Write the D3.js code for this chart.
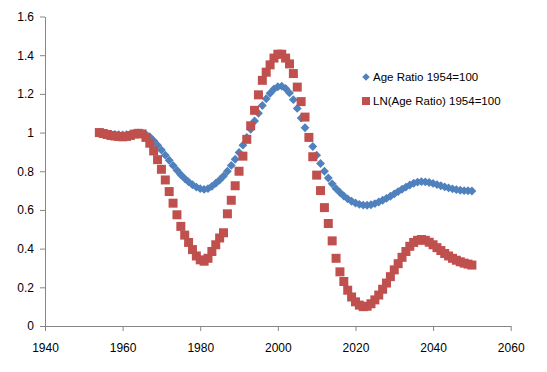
<!DOCTYPE html>
<html>
<head>
<meta charset="utf-8">
<script src="https://cdn.jsdelivr.net/npm/d3@7"></script>
<style>
  body { margin: 0; background: #fff; }
  svg text { font-family: "Liberation Sans", Arial, sans-serif; fill: #000; }
</style>
</head>
<body>
<div id="chart"></div>
<script>
// yearly values 1954..2050
const firstYear = 1954
const ageRatio = [
  1.000, 0.997, 0.994, 0.992, 0.990, 0.989, 0.988, 0.989, 0.991, 0.995,
  0.998, 0.997, 0.990, 0.978, 0.958, 0.935, 0.910, 0.883, 0.857, 0.830,
  0.805, 0.782, 0.762, 0.745, 0.730, 0.718, 0.710, 0.706, 0.710, 0.722,
  0.738, 0.755, 0.775, 0.800, 0.830, 0.862, 0.897, 0.935, 0.975, 1.017,
  1.060, 1.100, 1.140, 1.175, 1.203, 1.225, 1.237, 1.240, 1.228, 1.205,
  1.170, 1.125, 1.075, 1.025, 0.975, 0.928, 0.883, 0.840, 0.800, 0.765,
  0.735, 0.710, 0.690, 0.672, 0.657, 0.645, 0.636, 0.629, 0.625, 0.624,
  0.627, 0.633, 0.641, 0.650, 0.660, 0.671, 0.683, 0.695, 0.707, 0.718,
  0.729, 0.738, 0.744, 0.746, 0.745, 0.742, 0.737, 0.731, 0.725, 0.719,
  0.714, 0.709, 0.705, 0.702, 0.700, 0.699, 0.698
]
const lnRatio = [
  1.000, 0.995, 0.990, 0.985, 0.982, 0.980, 0.978, 0.980, 0.985, 0.992,
  0.996, 0.993, 0.975, 0.945, 0.905, 0.860, 0.810, 0.755, 0.695, 0.635,
  0.575, 0.515, 0.470, 0.432, 0.395, 0.362, 0.342, 0.335, 0.350, 0.385,
  0.420, 0.455, 0.482, 0.580, 0.650, 0.725, 0.800, 0.878, 0.965, 1.035,
  1.115, 1.195, 1.270, 1.312, 1.350, 1.385, 1.405, 1.405, 1.385, 1.355,
  1.305, 1.235, 1.160, 1.080, 0.975, 0.875, 0.780, 0.700, 0.612, 0.530,
  0.440, 0.350, 0.280, 0.230, 0.185, 0.150, 0.125, 0.108, 0.100, 0.102,
  0.115, 0.135, 0.160, 0.190, 0.222, 0.255, 0.290, 0.322, 0.355, 0.385,
  0.412, 0.432, 0.443, 0.447, 0.443, 0.433, 0.420, 0.405, 0.390, 0.375,
  0.362, 0.350, 0.340, 0.332, 0.325, 0.320, 0.315
]
const xTicks = [1940, 1960, 1980, 2000, 2020, 2040, 2060]
const yTicks = [0, 0.2, 0.4, 0.6, 0.8, 1, 1.2, 1.4, 1.6]
const seriesNames = ["Age Ratio 1954=100", "LN(Age Ratio) 1954=100"]

const width = 547
const height = 372
const axisColor = "#868686"
const blue = "#4F81BD"
const red = "#C0504D"

const x = d3.scaleLinear().domain([1940, 2060]).range([45, 510.7])
const y = d3.scaleLinear().domain([0, 1.6]).range([326, 16.5])

const svg = d3.select("#chart").append("svg")
    .attr("width", width)
    .attr("height", height)

//axes
const xAxis = svg.append("g")
    .attr("transform", `translate(0, ${y(0)})`)
    .call(d3.axisBottom(x).tickValues(xTicks).tickFormat(d3.format("d"))
        .tickSize(5).tickSizeOuter(0).tickPadding(12))
const yAxis = svg.append("g")
    .attr("transform", `translate(${x(1940)}, 0)`)
    .call(d3.axisLeft(y).tickValues(yTicks).tickFormat(d => d3.format("")(+d.toFixed(1)))
        .tickSize(5).tickSizeOuter(0).tickPadding(6))

for (const ax of [xAxis, yAxis]) {
    ax.selectAll("path, line").attr("stroke", axisColor)
    ax.selectAll("text").style("font-size", "12px").attr("fill", "#000")
}

const blueData = ageRatio.map((v, i) => ({ year: firstYear + i, v }))
const redData = lnRatio.map((v, i) => ({ year: firstYear + i, v }))

const diamond = d3.symbol().type(d3.symbolDiamond2).size(50)
const square = d3.symbol().type(d3.symbolSquare).size(81)

svg.append("g").selectAll("path").data(blueData).join("path")
    .attr("d", diamond)
    .attr("transform", d => `translate(${x(d.year)}, ${y(d.v)})`)
    .attr("fill", blue)

svg.append("g").selectAll("path").data(redData).join("path")
    .attr("d", square)
    .attr("transform", d => `translate(${x(d.year)}, ${y(d.v)})`)
    .attr("fill", red)

//legend
const legend = svg.append("g").attr("transform", "translate(366, 77)")
legend.append("path").attr("d", d3.symbol().type(d3.symbolDiamond2).size(36)).attr("fill", blue)
legend.append("path").attr("d", d3.symbol().type(d3.symbolSquare).size(64))
    .attr("transform", "translate(0, 24)").attr("fill", red)
legend.selectAll("text").data(seriesNames).join("text")
    .attr("x", 7)
    .attr("y", (d, i) => i * 24)
    .attr("dy", "0.35em")
    .style("font-size", "11.5px")
    .text(d => d)
</script>
</body>
</html>
